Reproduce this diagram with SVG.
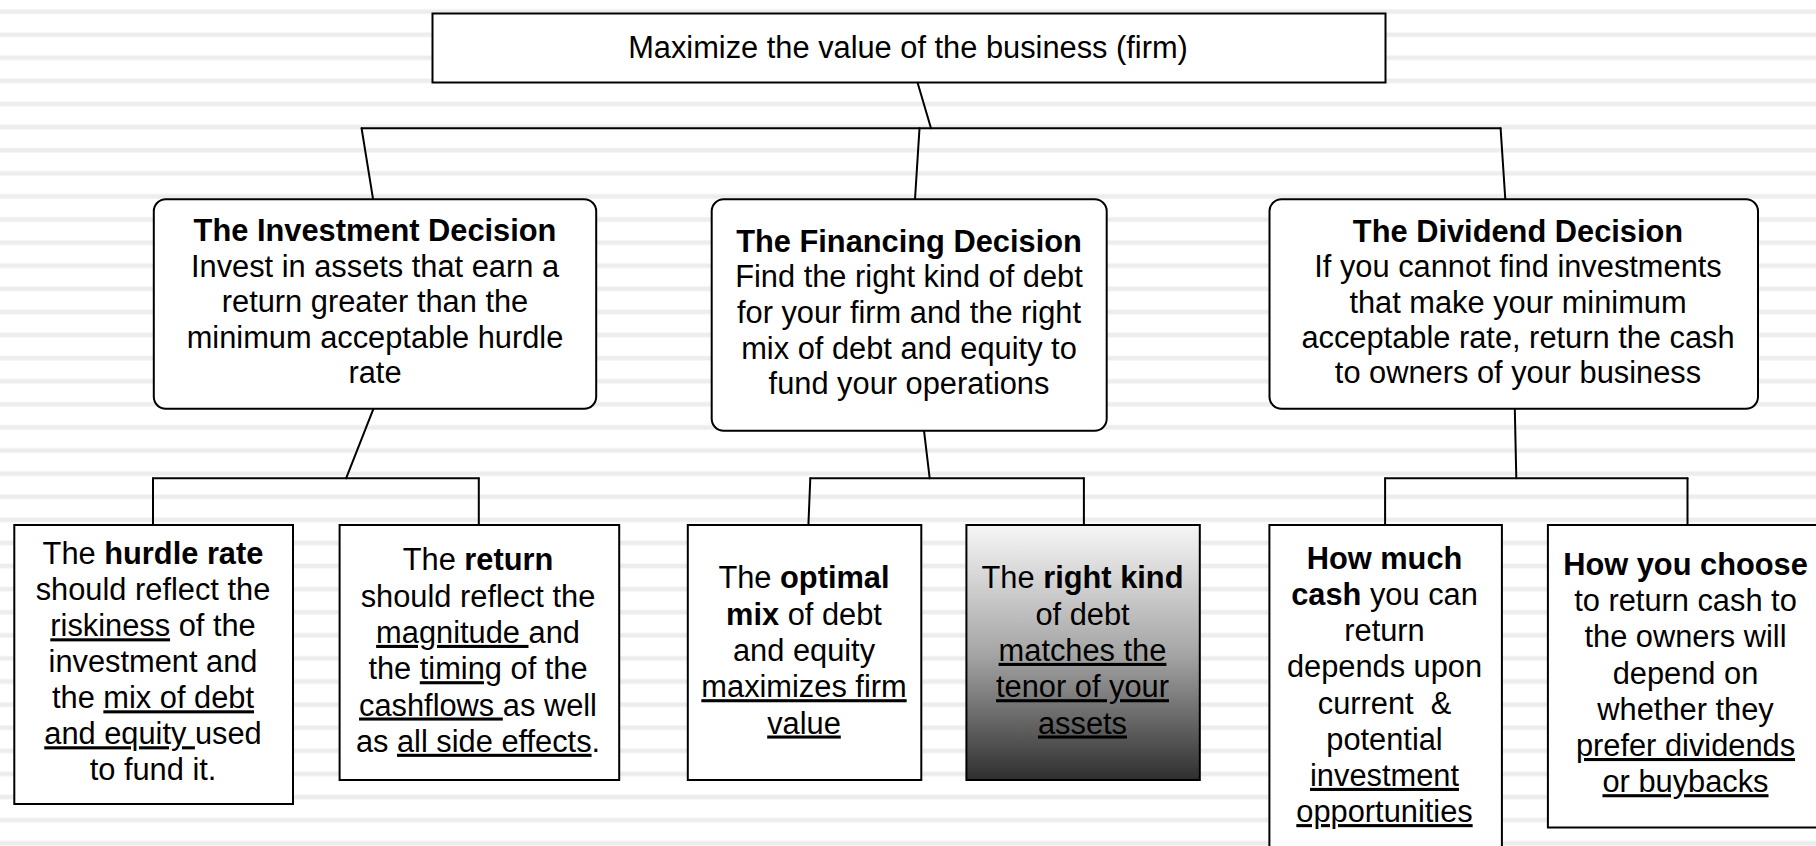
<svg xmlns="http://www.w3.org/2000/svg" width="1816" height="846" viewBox="0 0 1816 846">
<style>
text{font-family:"Liberation Sans",Arial,Helvetica,sans-serif;font-size:30.8px;fill:#000;text-anchor:middle}
.b{font-weight:bold}
.u{text-decoration:underline}
.box{fill:#fff;stroke:#000;stroke-width:2}
.conn line{stroke:#000;stroke-width:2;stroke-linecap:round}
</style>
<defs>
<pattern id="stripes" patternUnits="userSpaceOnUse" x="0" y="0" width="1816" height="23.1">
<rect x="0" y="9.3" width="1816" height="4.6" fill="#ededed"/>
</pattern>
<linearGradient id="grad" x1="0" y1="0" x2="0" y2="1">
<stop offset="0" stop-color="#f6f6f6"/>
<stop offset="0.5" stop-color="#a6a6a6"/>
<stop offset="1" stop-color="#2f2f2f"/>
</linearGradient>
</defs>
<rect x="0" y="0" width="1816" height="846" fill="#fff"/>
<rect x="0" y="0" width="1816" height="846" fill="url(#stripes)"/>

<g id="connectors" class="conn">
<line x1="917.6" y1="82.7" x2="931" y2="128.3"/>
<line x1="361.6" y1="128.3" x2="1500.6" y2="128.3"/>
<line x1="361.6" y1="128.3" x2="373.1" y2="199.3"/>
<line x1="919.5" y1="128.3" x2="915" y2="199.3"/>
<line x1="1500.6" y1="128.3" x2="1505.3" y2="199.3"/>
<line x1="373.5" y1="408.7" x2="346.1" y2="478.3"/>
<line x1="153" y1="478.3" x2="478.8" y2="478.3"/>
<line x1="153" y1="478.3" x2="153" y2="525"/>
<line x1="478.8" y1="478.3" x2="478.8" y2="525"/>
<line x1="924" y1="430.7" x2="929.7" y2="478.3"/>
<line x1="810.3" y1="478.3" x2="1083.9" y2="478.3"/>
<line x1="810.3" y1="478.3" x2="808.4" y2="525"/>
<line x1="1083.9" y1="478.3" x2="1083.9" y2="525"/>
<line x1="1514.8" y1="408.7" x2="1516.3" y2="478.3"/>
<line x1="1385.1" y1="478.3" x2="1687.5" y2="478.3"/>
<line x1="1385.1" y1="478.3" x2="1385.1" y2="525"/>
<line x1="1687.5" y1="478.3" x2="1687.5" y2="525"/>
</g>

<g id="goal">
<rect class="box" x="432.5" y="13.5" width="953" height="69"/>
<text x="908" y="58.3">Maximize the value of the business (firm)</text>
</g>

<g id="investment">
<rect class="box" x="153.8" y="199.3" width="442.4" height="209.4" rx="12"/>
<text x="375" y="241" class="b">The Investment Decision</text>
<text x="375" y="276.7">Invest in assets that earn a</text>
<text x="375" y="312.3">return greater than the</text>
<text x="375" y="347.7">minimum acceptable hurdle</text>
<text x="375" y="383.3">rate</text>
</g>

<g id="financing">
<rect class="box" x="711.7" y="199.3" width="395" height="231.4" rx="12"/>
<text x="909" y="251.7" class="b">The Financing Decision</text>
<text x="909" y="287.3">Find the right kind of debt</text>
<text x="909" y="323.3">for your firm and the right</text>
<text x="909" y="359">mix of debt and equity to</text>
<text x="909" y="394.3">fund your operations</text>
</g>

<g id="dividend">
<rect class="box" x="1269.5" y="199.3" width="488.5" height="209.4" rx="12"/>
<text x="1518" y="241.7" class="b">The Dividend Decision</text>
<text x="1518" y="277.3">If you cannot find investments</text>
<text x="1518" y="312.7">that make your minimum</text>
<text x="1518" y="348.3">acceptable rate, return the cash</text>
<text x="1518" y="383.3">to owners of your business</text>
</g>

<g id="hurdle">
<rect class="box" x="14.3" y="525" width="278.7" height="279"/>
<text x="153" y="564.3">The <tspan class="b">hurdle rate</tspan></text>
<text x="153" y="600.3">should reflect the</text>
<text x="153" y="636.3"><tspan class="u">riskiness</tspan> of the</text>
<text x="153" y="672.3">investment and</text>
<text x="153" y="708.3">the <tspan class="u">mix of debt</tspan></text>
<text x="153" y="744.3"><tspan class="u">and equity </tspan>used</text>
<text x="153" y="780.3">to fund it.</text>
</g>

<g id="return">
<rect class="box" x="339.6" y="525" width="279.6" height="255"/>
<text x="478" y="570.3">The <tspan class="b">return</tspan></text>
<text x="478" y="606.6">should reflect the</text>
<text x="478" y="642.9"><tspan class="u">magnitude </tspan>and</text>
<text x="478" y="679.2">the <tspan class="u">timing</tspan> of the</text>
<text x="478" y="715.5"><tspan class="u">cashflows </tspan>as well</text>
<text x="478" y="751.8">as <tspan class="u">all side effects</tspan>.</text>
</g>

<g id="optimal">
<rect class="box" x="687.8" y="525" width="233.5" height="255"/>
<text x="804" y="588.3">The <tspan class="b">optimal</tspan></text>
<text x="804" y="624.6"><tspan class="b">mix</tspan> of debt</text>
<text x="804" y="660.9">and equity</text>
<text x="804" y="697.2"><tspan class="u">maximizes firm</tspan></text>
<text x="804" y="733.5"><tspan class="u">value</tspan></text>
</g>

<g id="rightkind">
<rect class="box" x="966.4" y="525" width="233.4" height="255" style="fill:url(#grad)"/>
<text x="1082.5" y="588.3">The <tspan class="b">right kind</tspan></text>
<text x="1082.5" y="624.6">of debt</text>
<text x="1082.5" y="660.9"><tspan class="u">matches the</tspan></text>
<text x="1082.5" y="697.2"><tspan class="u">tenor of your</tspan></text>
<text x="1082.5" y="733.5"><tspan class="u">assets</tspan></text>
</g>

<g id="howmuch">
<rect class="box" x="1269.4" y="525" width="232.5" height="340"/>
<text x="1384.5" y="568.7" class="b">How much</text>
<text x="1384.5" y="604.9"><tspan class="b">cash</tspan> you can</text>
<text x="1384.5" y="641.1">return</text>
<text x="1384.5" y="677.3">depends upon</text>
<text x="1384.5" y="713.5" style="white-space:pre">current  &amp;</text>
<text x="1384.5" y="749.7">potential</text>
<text x="1384.5" y="785.9"><tspan class="u">investment</tspan></text>
<text x="1384.5" y="822.1"><tspan class="u">opportunities</tspan></text>
</g>

<g id="howchoose">
<rect class="box" x="1547.9" y="525" width="290" height="302.5"/>
<text x="1685.5" y="575" class="b">How you choose</text>
<text x="1685.5" y="611.2">to return cash to</text>
<text x="1685.5" y="647.4">the owners will</text>
<text x="1685.5" y="683.6">depend on</text>
<text x="1685.5" y="719.8">whether they</text>
<text x="1685.5" y="756"><tspan class="u">prefer dividends</tspan></text>
<text x="1685.5" y="792.2"><tspan class="u">or buybacks</tspan></text>
</g>
</svg>
